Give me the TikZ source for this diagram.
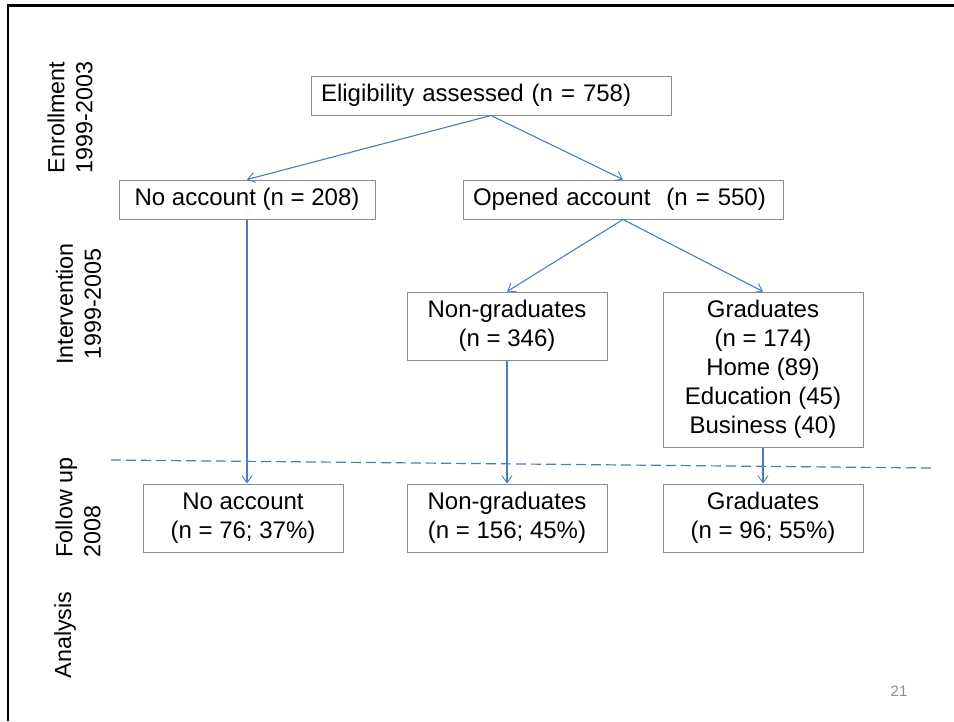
\documentclass[tikz,border=0pt]{standalone}
\usepackage{fontspec}
\setmainfont{Liberation Sans}
\usetikzlibrary{arrows.meta}
\definecolor{arrowblue}{HTML}{4A7EBB}
\definecolor{boxgray}{HTML}{8C8C8C}
\definecolor{pagegray}{HTML}{8C8C8C}
\tikzset{
  flowbox/.style={draw=boxgray, line width=1pt, inner xsep=0pt, inner ysep=0pt, align=center},
  flowarrow/.style={draw=arrowblue, line width=1.1pt, -{Straight Barb[length=7pt,width=10pt,line width=0.9pt]}},
  phaselabel/.style={rotate=90, inner sep=0pt, font=\fontsize{23.3}{28}\selectfont},
}
\begin{document}
\begin{tikzpicture}[x=1pt,y=-1pt]
  \useasboundingbox (0.000000,0.000000) rectangle (954.000000,721.000000);
  {\fontsize{24}{29}\selectfont

  % Drawing slide frame
  \draw [line width=2.7pt] (8.000000,721.000000) -- (8.000000,5.300000) -- (954.000000,5.300000);%

  % Marking phase labels
  \node (enroll) [phaselabel, align=center] at (70.000000,117.500000) {Enrollment\\1999-2003};%
  \node (interv) [phaselabel, align=center] at (78.500000,304.000000) {Intervention\\1999-2005};%
  \node (follow) [phaselabel, align=left] at (78.000000,507.500000) {Follow up\\2008};%
  \node (analys) [phaselabel] at (65.000000,635.000000) {Analysis};%

  % Drawing box Eligibility
  \node (elig) [flowbox, text width=340pt, inner xsep=10pt, align=left, minimum height=39pt] at (491.000000,95.500000) {Eligibility assessed (n = 758)};%

  % Drawing boxes of enrollment
  \node (noacc) [flowbox, minimum width=256pt, minimum height=39pt] at (247.000000,199.500000) {No account (n = 208)};%
  \node (opened) [flowbox, text width=300pt, inner xsep=10pt, align=left, minimum height=39pt] at (623.000000,199.500000) {Opened account\ \ (n = 550)};%

  % Drawing boxes of intervention
  \node (nongrad) [flowbox, minimum width=200pt, minimum height=68pt] at (507.000000,326.000000) {Non-graduates\\(n = 346)};%
  \node (grad) [flowbox, minimum width=200pt, minimum height=155pt] at (763.000000,369.500000) {Graduates\\(n = 174)\\Home (89)\\Education (45)\\Business (40)};%

  % Drawing boxes of follow up
  \node (fnoacc) [flowbox, minimum width=200pt, minimum height=68pt] at (243.000000,518.000000) {No account\\(n = 76; 37\%)};%
  \node (fnongrad) [flowbox, minimum width=200pt, minimum height=68pt] at (507.000000,518.000000) {Non-graduates\\(n = 156; 45\%)};%
  \node (fgrad) [flowbox, minimum width=200pt, minimum height=68pt] at (763.000000,518.000000) {Graduates\\(n = 96; 55\%)};%

  % Drawing dashed divider
  \coordinate (divleft) at (111.000000,460.000000);%
  \coordinate (divright) at (933.000000,468.000000);%
  \draw [arrowblue, line width=1.2pt, dash pattern=on 10pt off 5pt] (divleft) -- (divright);%

  % Drawing arrows
  \draw [flowarrow] (elig.south) -- (noacc.north);%
  \draw [flowarrow] (elig.south) -- (opened.north);%
  \draw [flowarrow] (opened.south) -- (nongrad.north);%
  \draw [flowarrow] (opened.south) -- (grad.north);%
  \draw [flowarrow] (noacc.south) -- (noacc.south |- fnoacc.north);%
  \draw [flowarrow] (nongrad.south) -- (fnongrad.north);%
  \draw [flowarrow] (grad.south) -- (fgrad.north);%

  % Marking page number
  \node (pagenum) [text=pagegray, font=\fontsize{15}{18}\selectfont] at (899.000000,691.500000) {21};%
  }
\end{tikzpicture}
\end{document}
